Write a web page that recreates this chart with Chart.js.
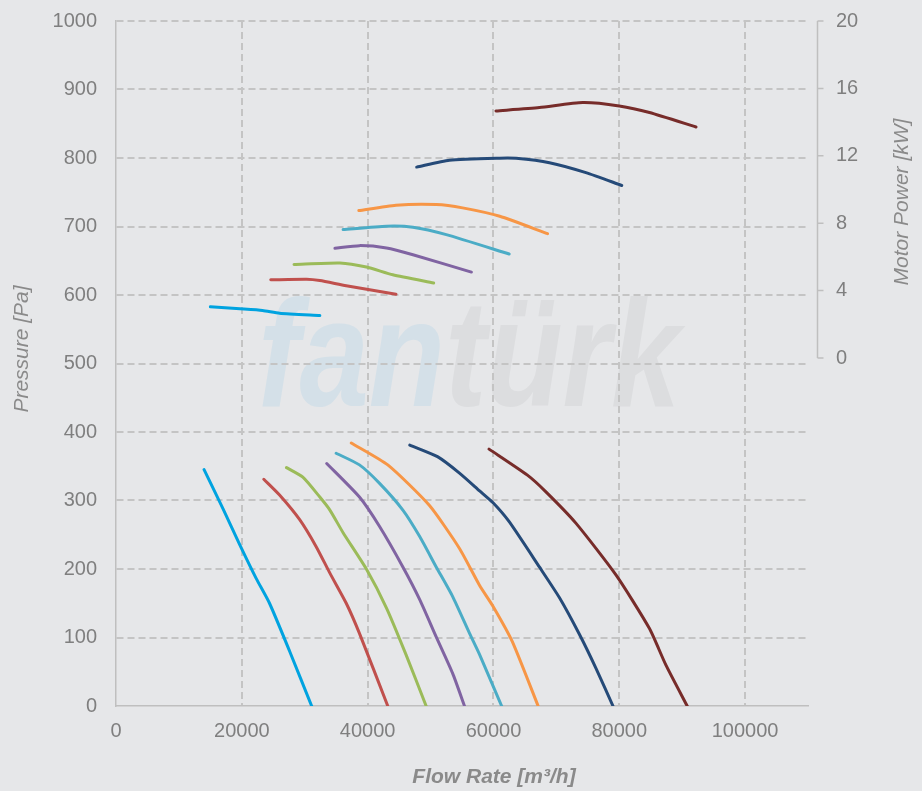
<!DOCTYPE html>
<html>
<head>
<meta charset="utf-8">
<script src="https://cdn.jsdelivr.net/npm/chart.js@4.4.1/dist/chart.umd.min.js"></script>
<style>
  html, body { margin: 0; padding: 0; background: #e6e7e9; }
  #wrap { width: 922px; height: 791px; }
</style>
</head>
<body>
<div id="wrap"><canvas id="chart" width="922" height="791"></canvas></div>
<script>
// axis ticks
const flowTicks = [0, 20000, 40000, 60000, 80000, 100000];
const powerTicks = [0, 4, 8, 12, 16, 20];

// pressure curves [Pa] vs flow [m3/h]
const flowP1 = [14000, 17000, 19700, 22300, 24400, 27600, 31100];
const presP1 = [345, 288, 235, 186, 150, 80, 0];
const flowP2 = [23500, 26000, 29200, 31800, 34000, 36600, 38700, 43200];
const presP2 = [331, 308, 272, 233, 194, 150, 106, 0];
const flowP3 = [27100, 29700, 32400, 34000, 36100, 39800, 43000, 46100, 49300];
const presP3 = [348, 334, 305, 286, 253, 200, 143, 75, 0];
const flowP4 = [33500, 38700, 41900, 45600, 48300, 50900, 53500, 55400];
const presP4 = [354, 305, 262, 203, 155, 101, 48, 0];
const flowP5 = [35000, 38700, 41900, 45600, 48300, 50900, 53500, 56200, 57800, 61300];
const presP5 = [369, 352, 325, 286, 247, 203, 160, 106, 75, 0];
const flowP6 = [37400, 43200, 49800, 54600, 57800, 59900, 63000, 67100];
const presP6 = [384, 352, 293, 230, 176, 146, 94, 0];
const flowP7 = [46700, 51100, 54600, 57800, 59900, 62500, 67300, 70500, 73700, 76300, 79000];
const presP7 = [381, 364, 340, 314, 297, 269, 203, 158, 104, 55, 0];
const flowP8 = [59300, 65400, 68300, 73100, 79500, 84800, 87400, 90800];
const presP8 = [375, 337, 313, 267, 191, 113, 60, 0];

// motor power curves [kW] vs flow [m3/h]
const flowW1 = [15000, 19700, 23300, 26000, 32400];
const powW1 = [3.04, 2.92, 2.82, 2.66, 2.52];
const flowW2 = [24600, 30300, 32400, 36600, 44500];
const powW2 = [4.64, 4.68, 4.60, 4.29, 3.79];
const flowW3 = [28300, 35600, 39800, 44000, 50500];
const powW3 = [5.55, 5.64, 5.40, 4.94, 4.45];
const flowW4 = [34800, 38700, 43000, 47200, 56500];
const powW4 = [6.51, 6.67, 6.53, 6.13, 5.10];
const flowW5 = [36100, 43000, 47200, 52500, 62500];
const powW5 = [7.62, 7.82, 7.76, 7.32, 6.17];
const flowW6 = [38600, 44500, 50900, 55100, 61000, 68600];
const powW6 = [8.75, 9.07, 9.11, 8.91, 8.41, 7.38];
const flowW7 = [47800, 53000, 61000, 63600, 68900, 74700, 80400];
const powW7 = [11.33, 11.73, 11.86, 11.85, 11.59, 11.00, 10.24];
const flowW8 = [60400, 67300, 74200, 80000, 84800, 92200];
const powW8 = [14.66, 14.86, 15.16, 14.96, 14.57, 13.71];

const colors = ['#00a3e0', '#c0504d', '#9bbb59', '#8064a2', '#4bacc6', '#f79646', '#254a78', '#772c2a'];

const pressureCurves = [[flowP1, presP1], [flowP2, presP2], [flowP3, presP3], [flowP4, presP4],
                        [flowP5, presP5], [flowP6, presP6], [flowP7, presP7], [flowP8, presP8]];
const powerCurves = [[flowW1, powW1], [flowW2, powW2], [flowW3, powW3], [flowW4, powW4],
                     [flowW5, powW5], [flowW6, powW6], [flowW7, powW7], [flowW8, powW8]];

const tickColor = '#7f7f7f';
const titleColor = '#8a8a8a';
const FONT = '"Liberation Sans", Arial, sans-serif';

function toPoints(xs, ys) {
    return xs.map((x, i) => ({ x: x, y: ys[i] }));
}

function lineSet(pts, color, axis) {
    return {
        data: pts,
        yAxisID: axis,
        borderColor: color,
        borderWidth: 3,
        pointRadius: 0,
        showLine: true,
        tension: 0.2,
        borderCapStyle: 'round',
        borderJoinStyle: 'round'
    };
}

let datasets = [];
pressureCurves.forEach((c, i) => datasets.push(lineSet(toPoints(c[0], c[1]), colors[i], 'y')));
powerCurves.forEach((c, i) => datasets.push(lineSet(toPoints(c[0], c[1]), colors[i], 'y2')));

// logo behind the grid
const watermark = {
    id: 'watermark',
    beforeDraw(chart) {
        const ctx = chart.ctx;
        ctx.save();
        ctx.font = 'bold italic 152px ' + FONT;
        ctx.textBaseline = 'alphabetic';
        ctx.translate(258, 406);
        ctx.scale(0.82, 1);
        ctx.fillStyle = '#d4e0e8';
        ctx.fillText('fan', 0, 0);
        const w = ctx.measureText('fan').width;
        ctx.fillStyle = '#dcdddf';
        ctx.fillText('türk', w, 0);
        ctx.restore();
    }
};

// short right axis (0..20 kW only) + axis titles
const extras = {
    id: 'extras',
    afterDraw(chart) {
        const ctx = chart.ctx;
        const s = chart.scales.y2;
        const x = chart.chartArea.right + 9.5;
        ctx.save();
        ctx.strokeStyle = '#bfbfbf';
        ctx.lineWidth = 1.5;
        ctx.beginPath();
        ctx.moveTo(x, s.getPixelForValue(20));
        ctx.lineTo(x, s.getPixelForValue(0));
        powerTicks.forEach(v => {
            const y = s.getPixelForValue(v);
            ctx.moveTo(x, y);
            ctx.lineTo(x + 6, y);
        });
        ctx.stroke();

        ctx.fillStyle = titleColor;
        ctx.textAlign = 'center';
        ctx.textBaseline = 'middle';

        ctx.font = 'bold italic 21px ' + FONT;
        ctx.fillText('Flow Rate [m³/h]', 494, 777);

        ctx.font = 'italic 21px ' + FONT;
        ctx.save();
        ctx.translate(22, 349);
        ctx.rotate(-Math.PI / 2);
        ctx.fillText('Pressure [Pa]', 0, 0);
        ctx.restore();

        ctx.save();
        ctx.translate(902, 202);
        ctx.rotate(-Math.PI / 2);
        ctx.fillText('Motor Power [kW]', 0, 0);
        ctx.restore();
        ctx.restore();
    }
};

Chart.defaults.font.family = FONT;

new Chart(document.getElementById('chart').getContext('2d'), {
    type: 'scatter',
    data: { datasets: datasets },
    options: {
        responsive: false,
        animation: false,
        events: [],
        layout: { padding: { top: 0, left: 0, right: 0, bottom: 0 } },
        plugins: { legend: { display: false }, tooltip: { enabled: false } },
        scales: {
            x: {
                type: 'linear',
                min: 0,
                max: 110000,
                afterBuildTicks: s => { s.ticks = flowTicks.map(v => ({ value: v })); },
                afterFit: s => { s.height = 85; },
                ticks: {
                    color: tickColor,
                    font: { size: 20 },
                    padding: 13,
                    maxRotation: 0,
                    autoSkip: false,
                    callback: v => String(v)
                },
                grid: {
                    color: c => (c.tick && c.tick.value === 0) ? 'rgba(0,0,0,0)' : '#c4c4c4',
                    lineWidth: 2,
                    drawTicks: false
                },
                border: { display: true, color: '#bfbfbf', width: 1.5, dash: [7, 4] }
            },
            y: {
                type: 'linear',
                position: 'left',
                min: 0,
                max: 1000,
                afterFit: s => { s.width = 116; },
                ticks: { stepSize: 100, color: tickColor, font: { size: 20 }, padding: 9, callback: v => String(v) },
                grid: {
                    color: c => (c.tick && c.tick.value === 0) ? 'rgba(0,0,0,0)' : '#c4c4c4',
                    tickColor: 'rgba(0,0,0,0)',
                    lineWidth: 2,
                    drawTicks: true,
                    tickLength: 10
                },
                border: { display: true, color: '#bfbfbf', width: 1.5, dash: [7, 4] }
            },
            y2: {
                type: 'linear',
                position: 'right',
                min: -20.65,
                max: 20,
                afterBuildTicks: s => { s.ticks = powerTicks.map(v => ({ value: v })); },
                afterFit: s => { s.width = 114; },
                ticks: { color: tickColor, font: { size: 20 }, padding: 9 },
                grid: { display: false, drawTicks: true, tickLength: 19 },
                border: { display: false }
            }
        }
    },
    plugins: [watermark, extras]
});
</script>
</body>
</html>
